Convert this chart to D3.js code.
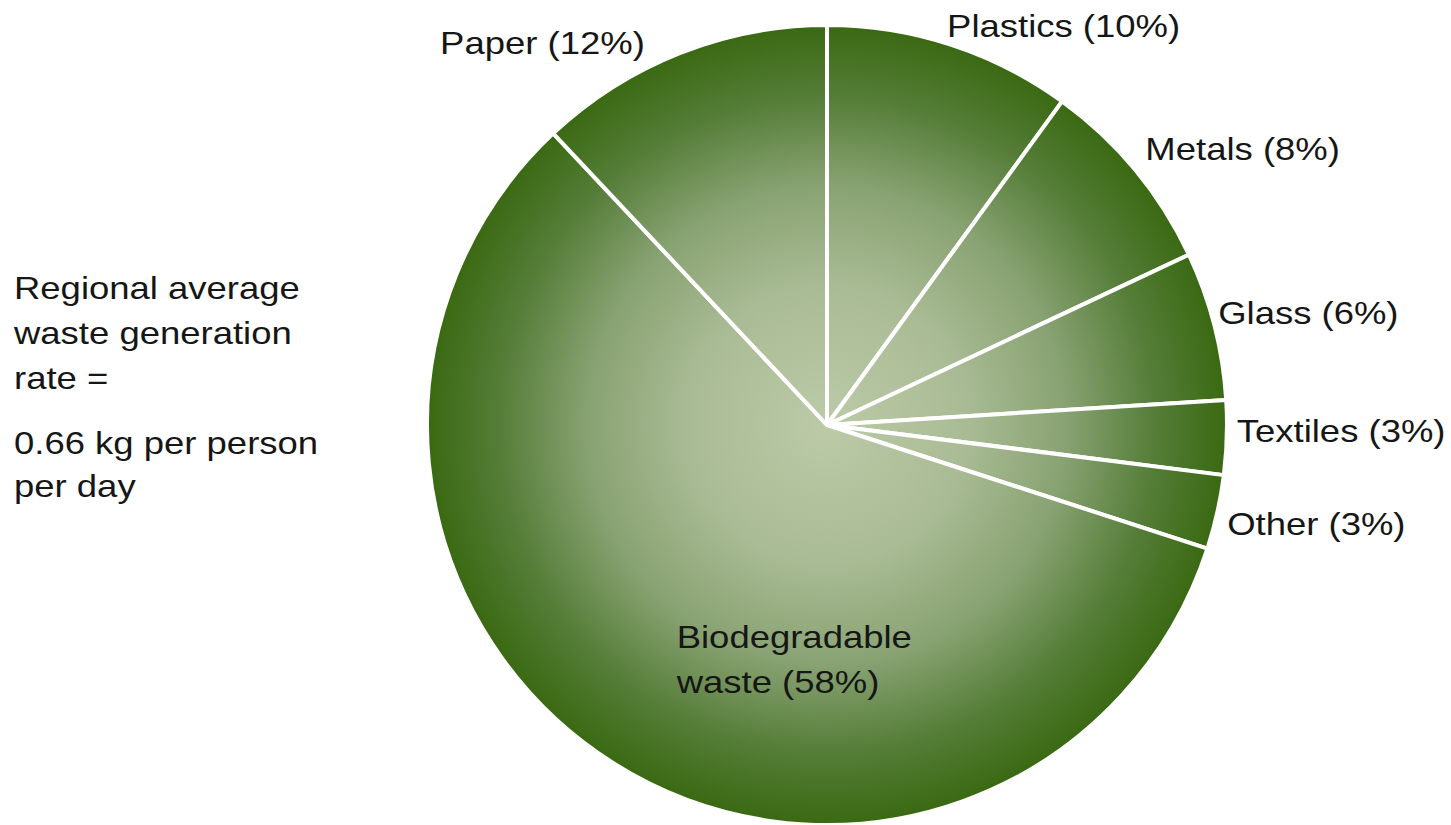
<!DOCTYPE html>
<html>
<head>
<meta charset="utf-8">
<script src="https://cdn.jsdelivr.net/npm/d3@7"></script>
<style>
  body { margin: 0; background: #fff; }
  svg text { font-family: "Liberation Sans", Arial, sans-serif; fill: #161616; }
</style>
</head>
<body>
<div id="chart"></div>
<script>
// waste composition pie

const categories = ["Plastics", "Metals", "Glass", "Textiles", "Other", "Biodegradable waste", "Paper"];
const shares = [10, 8, 6, 3, 3, 58, 12];
const sideNote = ["Regional average", "waste generation", "rate ="];
const rateNote = ["0.66 kg per person", "per day"];

const width = 1451, height = 825;
const cx = 827, cy = 425, radius = 400;
const stretch = 1.14;   // text in the original is a bit wide
const fontSize = 32;

const data = categories.map((c, i) => ({ name: c, value: shares[i] }));

const svg = d3.select("#chart")
    .append("svg")
    .attr("width", width)
    .attr("height", height);

// one radial gradient for the whole pie (paths live in the translated group, so centre at 0,0)
const grad = svg.append("defs")
    .append("radialGradient")
    .attr("id", "greenFade")
    .attr("gradientUnits", "userSpaceOnUse")
    .attr("cx", 0).attr("cy", 0).attr("r", radius);
[[0, "#bccaa8"], [0.35, "#a9bb94"], [0.6, "#88a272"], [0.82, "#557d38"], [1, "#3a6912"]]
    .forEach(s => grad.append("stop").attr("offset", s[0]).attr("stop-color", s[1]));

const pie = d3.pie().value(d => d.value).sort(null);
const arcs = pie(data);
const arc = d3.arc().innerRadius(0).outerRadius(radius);
const labelArc = d3.arc().innerRadius(408).outerRadius(408);
const innerArc = d3.arc().innerRadius(260).outerRadius(260);

const g = svg.append("g").attr("transform", `translate(${cx},${cy})`);

g.selectAll("path")
    .data(arcs)
    .enter()
    .append("path")
    .attr("d", arc)
    .attr("fill", "url(#greenFade)")
    .attr("stroke", "#fff")
    .attr("stroke-width", 4)
    .attr("stroke-linejoin", "round");

// small nudges so labels sit like the original
const nudge = {
    "Plastics": [-6, 0], "Metals": [4, -5], "Glass": [-4, 0],
    "Textiles": [2, 4], "Other": [2, 21], "Paper": [-32, 8]
};

function stretchedText(parent, x, y, str, anchor) {
    const t = parent.append("g")
        .attr("transform", `translate(${x},${y}) scale(${stretch},1)`)
        .append("text")
        .attr("font-size", fontSize)
        .attr("text-anchor", anchor || "start")
        .text(str);
    return t;
}

arcs.forEach(a => {
    const pct = Math.round(a.data.value) + "%";
    if (a.data.name === "Biodegradable waste") {
        const [x, y] = innerArc.centroid(a);
        stretchedText(g, x - 11, y + 3, "Biodegradable");
        stretchedText(g, x - 11, y + 48, "waste (" + pct + ")");
        return;
    }
    const [x, y] = labelArc.centroid(a);
    const mid = (a.startAngle + a.endAngle) / 2;
    const anchor = mid > Math.PI ? "end" : "start";
    const n = nudge[a.data.name] || [0, 0];
    stretchedText(g, x + n[0], y + n[1], `${a.data.name} (${pct})`, anchor);
});

// note on the left
sideNote.forEach((line, i) => stretchedText(svg, 14, 299 + i * 45, line));
rateNote.forEach((line, i) => stretchedText(svg, 14, 454 + i * 43, line));
</script>
</body>
</html>
